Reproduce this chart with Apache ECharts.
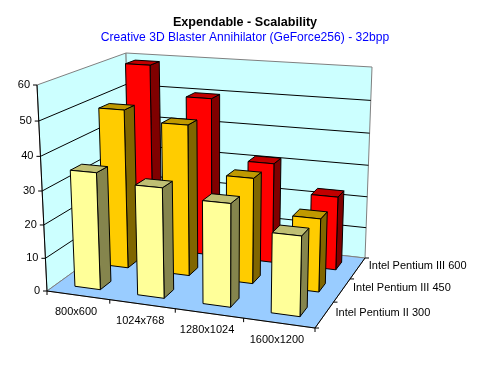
<!DOCTYPE html>
<html>
<head>
<meta charset="utf-8">
<title>Expendable - Scalability</title>
<script src="https://cdn.jsdelivr.net/npm/echarts@6/dist/echarts.min.js"></script>
<style>
  html, body { margin: 0; padding: 0; background: #fff; }
  #chart { width: 490px; height: 377px; }
</style>
</head>
<body>
<div id="chart"></div>
<script>
// values
var categories = ['800x600', '1024x768', '1280x1024', '1600x1200'];
var rowNames = ['Intel Pentium II 300', 'Intel Pentium III 450', 'Intel Pentium III 600'];
var pentium2_300 = [35, 32.5, 30, 23];
var pentium3_450 = [49, 46, 32, 22];
var pentium3_600 = [59, 50, 31.5, 23];
var yTicks = [0, 10, 20, 30, 40, 50, 60];

var FONT = '11px "Liberation Sans", Arial, sans-serif';

// hidden grid: gives the category and value scales, the result is then
// projected onto the 3D box below
var GRID = { left: 0, top: 0, width: 400, height: 300 };

// corners of the box on screen, [front-left, front-right, back-right, back-left]
var floorQuad = [[47, 291], [315, 328], [365, 258], [130, 231]];
var topQuad = [[37, 85], [320.3, 104.5], [372, 67], [126, 53]];

// unit square -> quad
function homography(q) {
	var dx1 = q[1][0] - q[2][0], dx2 = q[3][0] - q[2][0];
	var dy1 = q[1][1] - q[2][1], dy2 = q[3][1] - q[2][1];
	var sx = q[0][0] - q[1][0] + q[2][0] - q[3][0];
	var sy = q[0][1] - q[1][1] + q[2][1] - q[3][1];
	var den = dx1 * dy2 - dx2 * dy1;
	var g = (sx * dy2 - dx2 * sy) / den;
	var h = (dx1 * sy - sx * dy1) / den;
	var a = q[1][0] - q[0][0] + g * q[1][0];
	var b = q[3][0] - q[0][0] + h * q[3][0];
	var d = q[1][1] - q[0][1] + g * q[1][1];
	var e = q[3][1] - q[0][1] + h * q[3][1];
	return function (u, v) {
		var w = g * u + h * v + 1;
		return [(a * u + b * v + q[0][0]) / w, (d * u + e * v + q[0][1]) / w];
	};
}
var floorAt = homography(floorQuad);
var topAt = homography(topQuad);

// u along categories, v along rows (0 front), t height 0..1
function project(u, v, t) {
	var f = floorAt(u, v), c = topAt(u, v);
	var k = t / (t + (1 - t) * 1.06);
	return [f[0] + (c[0] - f[0]) * k, f[1] + (c[1] - f[1]) * k];
}

function poly(points, fill, stroke) {
	return {
		type: 'polygon',
		shape: { points: points },
		style: { fill: fill, stroke: stroke, lineWidth: 1 }
	};
}
function line(a, b, stroke) {
	return {
		type: 'line',
		shape: { x1: a[0], y1: a[1], x2: b[0], y2: b[1] },
		style: { stroke: stroke, lineWidth: 1 }
	};
}
function label(text, x, y, align, color) {
	return {
		type: 'text',
		style: { text: text, x: x, y: y, align: align, verticalAlign: 'middle', fill: color || '#000', font: FONT }
	};
}

// walls, floor, gridlines, ticks and their labels
function renderBox(params, api) {
	var kids = [];
	var gray = '#808080', black = '#000';
	kids.push(poly([project(0, 0, 0), project(0, 1, 0), project(0, 1, 1), project(0, 0, 1)], '#CCFFFF', gray));
	kids.push(poly([project(0, 1, 0), project(1, 1, 0), project(1, 1, 1), project(0, 1, 1)], '#CCFFFF', gray));
	kids.push(poly([project(0, 0, 0), project(1, 0, 0), project(1, 1, 0), project(0, 1, 0)], '#99CCFF', gray));

	yTicks.forEach(function (tick) {
		var t = (GRID.top + GRID.height - api.coord([0, tick])[1]) / GRID.height;
		if (tick > 0 && tick < 60) {
			kids.push(line(project(0, 0, t), project(0, 1, t), black));
			kids.push(line(project(0, 1, t), project(1, 1, t), black));
		}
		var p = project(0, 0, t);
		kids.push(line([p[0] - 4, p[1]], p, black));
		kids.push(label(String(tick), p[0] - 7, p[1], 'right'));
	});
	kids.push(line(project(0, 0, 0), project(0, 0, 1), black));
	kids.push(line(project(0, 0, 0), project(1, 0, 0), black));
	kids.push(line(project(1, 0, 0), project(1, 1, 0), black));

	categories.forEach(function (name, i) {
		var a = project(i / categories.length, 0, 0);
		kids.push(line(a, [a[0], a[1] + 4], black));
		var c = project((i + 0.5) / categories.length, 0, 0);
		kids.push(label(name, c[0] - 2, c[1] + 17, 'center'));
	});
	var end = project(1, 0, 0);
	kids.push(line(end, [end[0], end[1] + 4], black));

	rowNames.forEach(function (name, r) {
		var a = project(1, r / rowNames.length, 0);
		kids.push(line(a, [a[0] + 4, a[1]], black));
		var c = project(1, (r + 0.5) / rowNames.length, 0);
		kids.push(label(name, c[0] + 11, c[1] - 2, 'left'));
	});
	var back = project(1, 1, 0);
	kids.push(line(back, [back[0] + 4, back[1]], black));

	return { type: 'group', children: kids };
}

var BAR_WIDTH = 0.41;
var BAR_DEPTH = 0.37;

function renderBars(row, front, topColor, side) {
	return function (params, api) {
		var c = api.coord([api.value(0), api.value(1)]);
		var band = api.size([1, 0])[0];
		var u0 = (c[0] - GRID.left - band * BAR_WIDTH / 2) / GRID.width;
		var u1 = (c[0] - GRID.left + band * BAR_WIDTH / 2) / GRID.width;
		var t = (GRID.top + GRID.height - c[1]) / GRID.height;
		var v0 = (row + 0.5 - BAR_DEPTH / 2) / rowNames.length;
		var v1 = (row + 0.5 + BAR_DEPTH / 2) / rowNames.length;
		return {
			type: 'group',
			children: [
				poly([project(u1, v0, 0), project(u1, v1, 0), project(u1, v1, t), project(u1, v0, t)], side, '#000'),
				poly([project(u0, v0, t), project(u1, v0, t), project(u1, v1, t), project(u0, v1, t)], topColor, '#000'),
				poly([project(u0, v0, 0), project(u1, v0, 0), project(u1, v0, t), project(u0, v0, t)], front, '#000')
			]
		};
	};
}

function barData(values) {
	return values.map(function (v, i) { return [i, v]; });
}

var chart = echarts.init(document.getElementById('chart'), null, { renderer: 'canvas' });
chart.setOption({
	animation: false,
	backgroundColor: '#fff',
	title: {
		text: 'Expendable - Scalability',
		subtext: 'Creative 3D Blaster Annihilator (GeForce256) - 32bpp',
		left: 'center',
		top: 16,
		itemGap: 3,
		padding: 0,
		textStyle: { fontFamily: 'Liberation Sans', fontSize: 12.6, fontWeight: 'bold', color: '#000' },
		subtextStyle: { fontFamily: 'Liberation Sans', fontSize: 12.1, color: '#0000FF' }
	},
	tooltip: { show: false },
	grid: { left: GRID.left, top: GRID.top, width: GRID.width, height: GRID.height, show: false },
	xAxis: { type: 'category', data: categories, show: false },
	yAxis: { type: 'value', min: 0, max: 60, interval: 10, show: false },
	series: [
		{ type: 'custom', silent: true, clip: false, data: [[0, 0]], renderItem: renderBox, z: 1 },
		{ type: 'custom', silent: true, clip: false, data: barData(pentium3_600), renderItem: renderBars(2, '#FF0000', '#C00000', '#800000'), z: 2 },
		{ type: 'custom', silent: true, clip: false, data: barData(pentium3_450), renderItem: renderBars(1, '#FFCC00', '#C09900', '#806600'), z: 3 },
		{ type: 'custom', silent: true, clip: false, data: barData(pentium2_300), renderItem: renderBars(0, '#FFFF99', '#BFBF73', '#85854D'), z: 4 }
	]
});
</script>
</body>
</html>
